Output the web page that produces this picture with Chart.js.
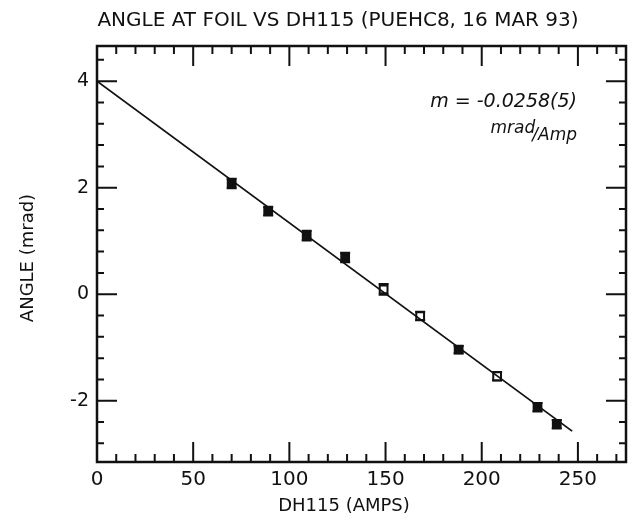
<!DOCTYPE html>
<html>
<head>
<meta charset="utf-8">
<script src="https://cdn.jsdelivr.net/npm/chart.js@4/dist/chart.umd.min.js"></script>
<style>
html, body { margin: 0; background: #fff; }
</style>
</head>
<body>
<canvas id="angleChart" width="635" height="523"></canvas>
<script>
// data
var current = [70, 89, 109, 129, 149, 168, 188, 208, 229, 239];
var angle = [2.08, 1.56, 1.10, 0.69, 0.09, -0.41, -1.04, -1.54, -2.12, -2.44];
var angleErr = [0.09, 0.08, 0.09, 0.09, 0.10, 0.08, 0.07, 0.08, 0.08, 0.08];
var fitX = [0, 247];
var fitY = [4.0, -2.57];

var xLabels = [0, 50, 100, 150, 200, 250];
var yLabels = [-2, 0, 2, 4];
var xMinor = [10, 20, 30, 40, 60, 70, 80, 90, 110, 120, 130, 140, 160, 170, 180, 190, 210, 220, 230, 240, 260, 270];
var yMinor = [4.4, 3.6, 3.2, 2.8, 2.4, 1.6, 1.2, 0.8, 0.4, -0.4, -0.8, -1.2, -1.6, -2.4, -2.8];

var hollow = [4, 5, 7];
var ink = '#111';
var font = '"DejaVu Sans", sans-serif';

var points = current.map(function (x, i) { return {x: x, y: angle[i]}; });
var fitLine = fitX.map(function (x, i) { return {x: x, y: fitY[i]}; });

var frame = {
    id: 'frame',
    beforeDatasetsDraw: function (chart) {
        // error bars
        var ctx = chart.ctx, xs = chart.scales.x, ys = chart.scales.y;
        ctx.save();
        ctx.strokeStyle = ink;
        ctx.lineWidth = 2;
        current.forEach(function (x, i) {
            var px = xs.getPixelForValue(x);
            var top = ys.getPixelForValue(angle[i] + angleErr[i]);
            var bot = ys.getPixelForValue(angle[i] - angleErr[i]);
            ctx.beginPath();
            ctx.moveTo(px, top); ctx.lineTo(px, bot);
            ctx.moveTo(px - 5, top); ctx.lineTo(px + 5, top);
            ctx.moveTo(px - 5, bot); ctx.lineTo(px + 5, bot);
            ctx.stroke();
        });
        ctx.restore();
    },
    afterDraw: function (chart) {
        var ctx = chart.ctx, a = chart.chartArea, xs = chart.scales.x, ys = chart.scales.y;
        ctx.save();
        ctx.strokeStyle = ink;
        ctx.lineWidth = 2;
        ctx.beginPath();
        function xt(v, len) {
            var p = xs.getPixelForValue(v);
            ctx.moveTo(p, a.bottom); ctx.lineTo(p, a.bottom - len);
            ctx.moveTo(p, a.top); ctx.lineTo(p, a.top + len);
        }
        function yt(v, len) {
            var p = ys.getPixelForValue(v);
            ctx.moveTo(a.left, p); ctx.lineTo(a.left + len, p);
            ctx.moveTo(a.right, p); ctx.lineTo(a.right - len, p);
        }
        xLabels.forEach(function (v) { xt(v, 20); });
        xMinor.forEach(function (v) { xt(v, 8); });
        yLabels.forEach(function (v) { yt(v, 20); });
        yMinor.forEach(function (v) { yt(v, 7); });
        ctx.stroke();
        ctx.lineWidth = 2.5;
        ctx.strokeRect(a.left, a.top, a.right - a.left, a.bottom - a.top);

        ctx.fillStyle = ink;
        ctx.textBaseline = 'middle';
        ctx.textAlign = 'center';
        ctx.font = '20px ' + font;
        ctx.fillText('ANGLE AT FOIL VS DH115 (PUEHC8, 16 MAR 93)', 338, 21);
        ctx.font = '18px ' + font;
        ctx.fillText('DH115 (AMPS)', 344, 506);

        ctx.save();
        ctx.translate(28, 258);
        ctx.rotate(-Math.PI / 2);
        ctx.fillText('ANGLE (mrad)', 0, 0);
        ctx.restore();

        ctx.textAlign = 'right';
        ctx.font = 'italic 19px ' + font;
        ctx.fillText('m = -0.0258(5)', 577, 102);
        ctx.font = 'italic 17px ' + font;
        var tail = '/Amp';
        ctx.fillText(tail, 577, 136);
        ctx.fillText('mrad', 577 - ctx.measureText(tail).width + 3, 129);
        ctx.restore();
    }
};

var angleChart = new Chart(document.getElementById('angleChart'), {
    type: 'scatter',
    data: {
        datasets: [{
            type: 'line',
            data: fitLine,
            borderColor: ink,
            borderWidth: 1.8,
            pointRadius: 0,
            fill: false
        }, {
            data: points,
            pointStyle: 'rect',
            pointRadius: 5.5,
            borderWidth: 2,
            borderColor: ink,
            pointBackgroundColor: current.map(function (x, i) {
                return hollow.indexOf(i) >= 0 ? '#fff' : ink;
            })
        }]
    },
    options: {
        responsive: false,
        animation: false,
        layout: {padding: {top: 46, right: 9, left: 0, bottom: 0}},
        plugins: {legend: {display: false}, tooltip: {enabled: false}},
        scales: {
            x: {
                type: 'linear',
                min: 0,
                max: 275,
                grid: {display: false, drawTicks: false},
                border: {display: false},
                afterBuildTicks: function (s) { s.ticks = xLabels.map(function (v) { return {value: v}; }); },
                afterFit: function (s) { s.height = 61; },
                ticks: {color: ink, font: {family: font, size: 20}, padding: 6, maxRotation: 0}
            },
            y: {
                min: -3.15,
                max: 4.66,
                grid: {display: false, drawTicks: false},
                border: {display: false},
                afterBuildTicks: function (s) { s.ticks = yLabels.map(function (v) { return {value: v}; }); },
                afterFit: function (s) { s.width = 97; },
                ticks: {color: ink, font: {family: font, size: 19}, padding: 8}
            }
        }
    },
    plugins: [frame]
});
</script>
</body>
</html>
